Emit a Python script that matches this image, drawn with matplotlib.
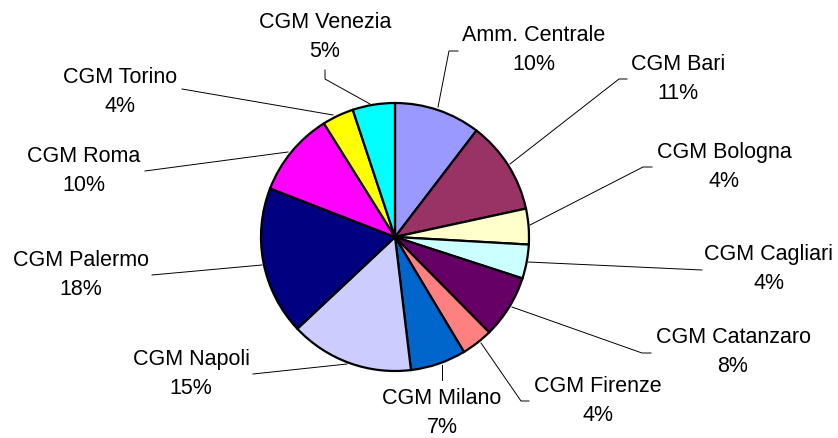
import matplotlib
matplotlib.use("Agg")
import matplotlib.pyplot as plt

labels = ["Amm. Centrale", "CGM Bari", "CGM Bologna", "CGM Cagliari", "CGM Catanzaro",
          "CGM Firenze", "CGM Milano", "CGM Napoli", "CGM Palermo", "CGM Roma",
          "CGM Torino", "CGM Venezia"]
values = [10.4, 11.2, 4.3, 4.1, 7.6, 3.8, 6.7, 14.9, 17.9, 10.2, 3.8, 5.1]
pct_labels = ["10%", "11%", "4%", "4%", "8%", "4%", "7%", "15%", "18%", "10%", "4%", "5%"]
colors = ["#9999FF", "#993366", "#FFFFCC", "#CCFFFF", "#660066", "#FF8080",
          "#0066CC", "#CCCCFF", "#000080", "#FF00FF", "#FFFF00", "#00FFFF"]

W, H = 838, 439
plt.rcParams['font.family'] = ['Liberation Sans', 'DejaVu Sans']
fig = plt.figure(figsize=(W / 100, H / 100), dpi=100)
ax = fig.add_axes([0, 0, 1, 1])
ax.set_xlim(0, W)
ax.set_ylim(0, H)
ax.set_aspect('equal')
ax.axis('off')

def P(x, y):
    return (x, H - y)

cx, cy = P(395, 238)
ax.pie(values, colors=colors, startangle=90, counterclock=False,
       center=(cx, cy), radius=134, frame=True,
       wedgeprops=dict(edgecolor='black', linewidth=1.6))
ax.set_xlim(0, W)
ax.set_ylim(0, H)
ax.axis('off')

# label block centers (pixel coords)
label_pos = [(534, 50), (678, 79), (724, 167), (769, 269), (733, 352), (598, 401),
             (442, 413), (191, 374), (81, 275), (84, 171), (120, 92), (325, 37)]
leaders = [
    [(438, 108), (449, 52), (458, 52)],
    [(510, 165), (619, 80), (627, 80)],
    [(530, 226), (643, 168), (652, 168)],
    [(528, 263), (702, 271)],
    [(512, 308), (642, 354), (651, 354)],
    [(481, 344), (521, 402), (529, 402)],
    [(442, 366), (442, 381)],
    [(347, 365), (253, 375)],
    [(262, 266), (152, 276)],
    [(288, 153), (145, 172)],
    [(333, 116), (182, 90)],
    [(370, 105), (325, 80), (325, 71)],
]
for lab, pct, (x, y), pts in zip(labels, pct_labels, label_pos, leaders):
    tx, ty = P(x, y)
    ax.text(tx, ty, lab + "\n" + pct, ha='center', va='center', fontsize=15.5,
            linespacing=1.5, color='black')
    xs = [p[0] for p in pts]
    ys = [H - p[1] for p in pts]
    ax.plot(xs, ys, color='black', linewidth=0.7)

fig.savefig("out.png", dpi=100)
